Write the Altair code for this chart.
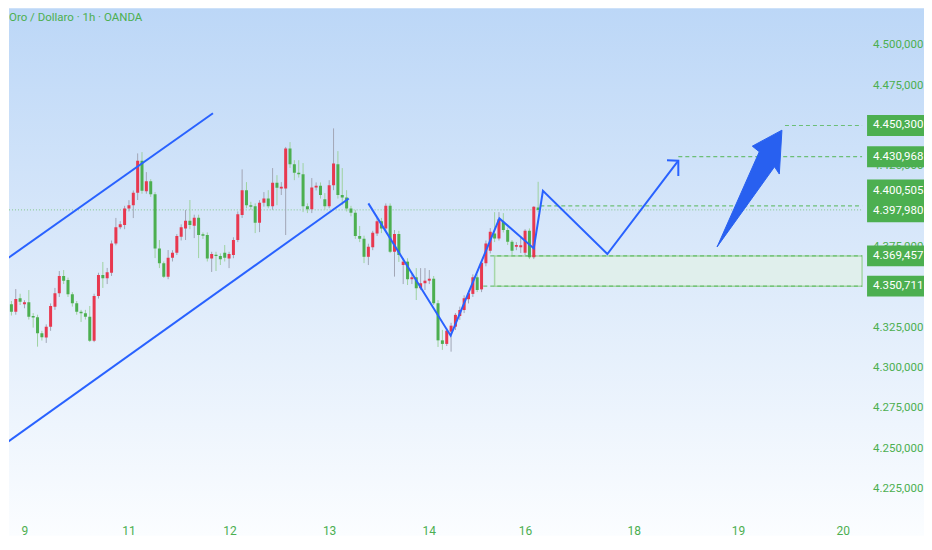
import altair as alt
import pandas as pd

# ---------------- candle data (1h, bar index 1..124) ----------------
opens = [4340.1, 4327.9, 4339.5, 4334.9, 4343.2, 4339.5, 4340.7, 4332.2, 4331.4, 4321.5,
         4318.8, 4325.6, 4338.0, 4346.3, 4357.0, 4354.5, 4345.7, 4340.1, 4334.9, 4333.9,
         4331.8, 4316.8, 4344.6, 4357.6, 4355.6, 4359.0, 4377.2, 4387.2, 4388.6, 4398.9,
         4400.9, 4408.6, 4428.4, 4409.6, 4415.8, 4407.6, 4374.1, 4364.9, 4356.6, 4368.3,
         4371.4, 4381.3, 4386.5, 4391.2, 4388.1, 4393.1, 4382.8, 4382.4, 4367.9, 4370.2,
         4369.4, 4371.4, 4367.9, 4370.0, 4379.3, 4394.8, 4410.2, 4400.9, 4400.3, 4390.0,
         4402.4, 4405.1, 4400.3, 4414.8, 4411.3, 4411.3, 4436.1, 4426.2, 4421.0, 4420.0,
         4400.3, 4398.3, 4411.9, 4412.9, 4404.5, 4400.3, 4413.3, 4426.2, 4407.2, 4405.7,
         4398.9, 4396.2, 4381.8, 4380.1, 4368.9, 4374.8, 4383.4, 4391.0, 4386.5, 4400.5,
         4372.0, 4383.0, 4363.8, 4365.9, 4355.0, 4356.2, 4349.4, 4352.5, 4354.1, 4355.3,
         4340.1, 4317.1, 4314.9, 4322.5, 4325.6, 4332.2, 4335.9, 4342.6, 4345.9, 4356.2,
         4348.7, 4364.9, 4372.7, 4383.4, 4380.3, 4390.6, 4385.5, 4378.2, 4375.1, 4374.8,
         4371.4, 4385.0, 4368.6, 4399.5]
highs = [4348.3, 4342.1, 4341.5, 4348.9, 4346.0, 4342.0, 4348.3, 4334.0, 4333.0, 4323.0,
         4327.0, 4340.0, 4349.6, 4360.1, 4360.7, 4356.0, 4347.0, 4341.5, 4336.0, 4336.0,
         4338.4, 4346.0, 4359.0, 4365.7, 4362.0, 4379.0, 4393.0, 4391.0, 4400.5, 4404.0,
         4410.0, 4433.0, 4433.8, 4421.4, 4417.0, 4409.0, 4379.3, 4366.0, 4373.1, 4373.0,
         4383.0, 4389.0, 4397.9, 4404.1, 4395.0, 4395.0, 4384.0, 4384.0, 4372.0, 4372.0,
         4371.0, 4376.2, 4372.0, 4381.0, 4397.0, 4423.1, 4415.2, 4403.0, 4402.0, 4404.0,
         4409.0, 4410.2, 4423.9, 4419.5, 4415.2, 4437.0, 4440.0, 4428.8, 4428.8, 4427.0,
         4402.0, 4417.7, 4415.0, 4415.0, 4408.4, 4416.4, 4448.5, 4434.4, 4423.9, 4410.2,
         4400.5, 4398.0, 4388.0, 4382.0, 4377.0, 4385.0, 4392.9, 4393.0, 4402.0, 4402.0,
         4385.5, 4385.0, 4368.0, 4368.0, 4358.0, 4361.9, 4361.9, 4361.9, 4360.7, 4357.0,
         4342.0, 4323.6, 4324.8, 4328.0, 4334.0, 4338.0, 4345.0, 4348.0, 4358.0, 4358.0,
         4367.0, 4379.0, 4386.7, 4396.6, 4396.6, 4396.0, 4387.0, 4379.3, 4378.0, 4381.8,
         4386.0, 4386.5, 4400.3, 4415.4]
lows = [4326.7, 4326.0, 4332.5, 4333.0, 4339.0, 4337.0, 4330.0, 4325.0, 4313.2, 4317.0,
        4315.5, 4323.0, 4336.0, 4344.0, 4352.0, 4344.0, 4338.0, 4333.0, 4328.5, 4330.0,
        4316.1, 4316.0, 4343.0, 4349.6, 4352.0, 4357.0, 4376.0, 4386.0, 4386.0, 4397.0,
        4392.9, 4404.1, 4408.0, 4408.0, 4406.0, 4368.1, 4361.9, 4355.8, 4355.0, 4366.0,
        4370.0, 4379.0, 4379.3, 4386.0, 4380.5, 4368.1, 4380.0, 4366.0, 4359.5, 4360.1,
        4363.8, 4366.0, 4361.9, 4368.0, 4378.0, 4393.0, 4399.0, 4398.0, 4383.6, 4384.2,
        4400.0, 4399.0, 4398.0, 4400.9, 4407.2, 4382.4, 4424.0, 4416.4, 4418.0, 4396.6,
        4396.0, 4396.0, 4410.0, 4405.0, 4398.0, 4399.0, 4410.2, 4405.0, 4400.9, 4397.0,
        4394.0, 4380.0, 4378.0, 4365.0, 4363.8, 4373.0, 4381.8, 4383.6, 4385.0, 4371.2,
        4356.6, 4365.7, 4352.0, 4351.4, 4352.0, 4342.1, 4348.3, 4348.3, 4352.0, 4339.0,
        4313.0, 4311.2, 4313.6, 4310.1, 4323.5, 4329.8, 4334.0, 4340.0, 4344.0, 4347.0,
        4347.0, 4363.0, 4371.0, 4378.0, 4379.0, 4384.0, 4376.2, 4370.0, 4373.0, 4371.2,
        4370.0, 4367.5, 4367.5, 4396.5]
closes = [4327.9, 4339.7, 4334.9, 4342.8, 4341.1, 4340.7, 4331.8, 4331.2, 4321.5, 4319.0,
          4325.6, 4338.4, 4346.3, 4357.0, 4354.1, 4345.7, 4340.1, 4334.9, 4333.9, 4331.8,
          4316.8, 4344.6, 4357.6, 4355.6, 4359.3, 4377.2, 4387.2, 4389.0, 4398.9, 4400.9,
          4408.6, 4428.4, 4409.8, 4415.8, 4407.6, 4374.1, 4364.9, 4356.6, 4368.3, 4371.4,
          4381.8, 4387.2, 4391.2, 4388.6, 4393.1, 4382.4, 4381.9, 4367.9, 4370.6, 4369.4,
          4367.3, 4368.3, 4370.6, 4379.3, 4395.2, 4410.2, 4400.9, 4399.9, 4390.0, 4402.4,
          4405.1, 4400.3, 4414.8, 4411.7, 4412.3, 4436.1, 4426.2, 4421.0, 4420.0, 4400.3,
          4398.3, 4411.9, 4412.9, 4407.2, 4400.3, 4413.3, 4426.8, 4407.2, 4405.7, 4398.9,
          4396.2, 4381.8, 4380.1, 4368.9, 4375.1, 4383.8, 4391.0, 4386.5, 4400.5, 4372.0,
          4383.0, 4370.0, 4365.9, 4355.0, 4356.2, 4349.4, 4352.5, 4354.1, 4355.3, 4340.1,
          4317.1, 4314.9, 4323.1, 4326.2, 4332.9, 4335.9, 4343.2, 4346.3, 4356.2, 4348.3,
          4365.2, 4377.2, 4384.4, 4380.3, 4392.1, 4385.5, 4378.2, 4372.7, 4376.2, 4376.0,
          4385.0, 4368.6, 4399.9, 4397.98]

# ---------------- axis ticks ----------------
day_ticks = [6.1, 30.0, 53.2, 76.1, 99.0, 121.1, 146.1, 170.0, 194.1]
day_labels = ["9", "11", "12", "13", "14", "16", "18", "19", "20"]
# price scale labels that are visible (the others sit under the price tags)
price_ticks = [4225, 4250, 4275, 4300, 4325, 4375, 4425, 4475, 4500]

# ---------------- price tags / levels ----------------
last_price = 4397.980
tag_prices = [4450.300, 4430.968, 4369.457, 4350.711]
pair_prices = [4400.505, 4397.980]
level_prices = [4450.300, 4430.968, 4400.505, 4369.457, 4350.711]
level_start = [180.7, 156.2, 124.5, 113.0, 111.4]
zone_start, zone_top, zone_bottom = 114.0, 4369.457, 4350.711

# ---------------- drawings (bar index, price) ----------------
upper_i, upper_p = [0.6, 49.3], [4365.0, 4457.9]
lower_i, lower_p = [0.6, 80.5], [4251.1, 4405.0]
zig_i = [85.0, 103.9, 115.1, 123.0, 125.1, 139.9, 156.2]
zig_p = [4402.0, 4320.0, 4392.7, 4374.1, 4409.8, 4370.6, 4428.5]
head_i, head_p = [153.6, 156.2, 156.2], [4428.8, 4428.5, 4419.0]
arrow_i = [165.1, 174.8, 173.2, 180.0, 179.4, 178.3, 165.1]
arrow_p = [4375.0, 4434.0, 4437.5, 4447.4, 4420.2, 4424.7, 4375.0]

title_text = "Oro / Dollaro · 1h · OANDA"

# ---------------- styling ----------------
W, H = 854, 507
GREEN = "#4caf50"
RED = "#e8384f"
BLUE = "#2962ff"
FONT = "Roboto"

XS = alt.Scale(domain=[2.4456, 198.41], nice=False, zero=False, padding=0)
YS = alt.Scale(domain=[4209.0, 4522.95], nice=False, zero=False, padding=0)


def X(f):
    return alt.X(f"{f}:Q", scale=XS, axis=None)


def Y(f):
    return alt.Y(f"{f}:Q", scale=YS, axis=None)


def fmt_price(p):
    s = f"{p:.3f}"
    whole, dec = s.split(".")
    return f"{whole[0]}.{whole[1:]},{dec}"


candles = pd.DataFrame({
    "i": list(range(1, len(opens) + 1)),
    "o": opens, "h": highs, "l": lows, "c": closes,
})
candles["dir"] = ["up" if c >= o else "down" for o, c in zip(opens, closes)]

one = pd.DataFrame({"a": [0]})

bg = alt.Chart(one).mark_rect(
    fill=alt.Gradient(
        gradient="linear",
        stops=[alt.GradientStop(color="#bcd7f7", offset=0),
               alt.GradientStop(color="#d9e8fa", offset=0.45),
               alt.GradientStop(color="#fbfdff", offset=1)],
        x1=0, x2=0, y1=0, y2=1),
    strokeWidth=0,
).encode(x=alt.value(0), x2=alt.value(916), y=alt.value(0), y2=alt.value(528))

last_line = alt.Chart(pd.DataFrame({"p": [last_price]})).mark_rule(
    color="#7cc47f", strokeDash=[1, 2], strokeWidth=1, opacity=0.9
).encode(x=alt.value(0), x2=alt.value(W), y=Y("p"))

zone = alt.Chart(pd.DataFrame({"x0": [zone_start], "top": [zone_top], "bot": [zone_bottom]})).mark_rect(
    fill="#e0efec", stroke="#a6d7a9", strokeWidth=1.5
).encode(x=X("x0"), x2=alt.value(W), y=Y("top"), y2=alt.Y2("bot:Q"))

levels = alt.Chart(pd.DataFrame({"x0": level_start, "p": level_prices})).mark_rule(
    color="#5cb860", strokeDash=[4, 3], strokeWidth=1.2, opacity=0.85
).encode(x=X("x0"), x2=alt.value(W), y=Y("p"))

seg_rows = []
for name, xs, ps in [("up", upper_i, upper_p), ("low", lower_i, lower_p),
                     ("zig", zig_i, zig_p), ("head", head_i, head_p)]:
    for k, (a, b) in enumerate(zip(xs, ps)):
        seg_rows.append({"seg": name, "i": a, "p": b, "k": k})
segs = alt.Chart(pd.DataFrame(seg_rows)).mark_line(
    color=BLUE, strokeWidth=2, clip=True
).encode(x=X("i"), y=Y("p"), detail="seg:N", order="k:Q")

wick_color = alt.when(alt.datum.dir == "up").then(alt.value("#a2a6b6")).otherwise(alt.value("#9ed2a0"))
body_color = alt.when(alt.datum.dir == "up").then(alt.value(RED)).otherwise(alt.value(GREEN))

wicks = alt.Chart(candles).mark_rule(strokeWidth=1, clip=True).encode(
    x=X("i"), y=Y("l"), y2=alt.Y2("h:Q"), color=wick_color)
bodies = alt.Chart(candles).mark_bar(size=3, clip=True).encode(
    x=X("i"), y=Y("o"), y2=alt.Y2("c:Q"), color=body_color)

big_arrow = alt.Chart(pd.DataFrame({"i": arrow_i, "p": arrow_p, "k": list(range(len(arrow_i)))})).mark_line(
    fill="#2860f0", stroke="#2860f0", strokeWidth=1
).encode(x=X("i"), y=Y("p"), order="k:Q")

ptick_df = pd.DataFrame({"p": price_ticks, "lab": [f"4.{v - 4000:03d},000" for v in price_ticks]})
plabels = alt.Chart(ptick_df).mark_text(
    align="left", baseline="middle", fontSize=11.5, font=FONT, color=GREEN
).encode(x=alt.value(865), y=Y("p"), text="lab:N")

TAG_X = 887.5
tag_shape = "M-1,-0.368L1,-0.368L1,0.368L-1,0.368Z"
pair_shape = "M-1,-0.754L1,-0.754L1,0.754L-1,0.754Z"
tag_df = pd.DataFrame({"p": tag_prices, "lab": [fmt_price(v) for v in tag_prices]})
tags = alt.Chart(tag_df).mark_point(
    shape=tag_shape, size=3249, filled=True, opacity=1, color=GREEN, strokeWidth=0
).encode(x=alt.value(TAG_X), y=Y("p"))
tag_text = alt.Chart(tag_df).mark_text(
    align="left", baseline="middle", fontSize=11.5, font=FONT, color="white"
).encode(x=alt.value(865), y=Y("p"), text="lab:N")

pair_df = pd.DataFrame({"p": [sum(pair_prices) / 2]})
pair_box = alt.Chart(pair_df).mark_point(
    shape=pair_shape, size=3249, filled=True, opacity=1, color=GREEN, strokeWidth=0, yOffset=-7
).encode(x=alt.value(TAG_X), y=Y("p"))
pair_a = alt.Chart(pd.DataFrame({"p": [pair_prices[0]], "lab": [fmt_price(pair_prices[0])]})).mark_text(
    align="left", baseline="middle", fontSize=11.5, font=FONT, color="white", dy=-15
).encode(x=alt.value(865), y=Y("p"), text="lab:N")
pair_b = alt.Chart(pd.DataFrame({"p": [pair_prices[1]], "lab": [fmt_price(pair_prices[1])]})).mark_text(
    align="left", baseline="middle", fontSize=11.5, font=FONT, color="white", dy=1
).encode(x=alt.value(865), y=Y("p"), text="lab:N")

dlabels = alt.Chart(pd.DataFrame({"t": day_ticks, "lab": day_labels})).mark_text(
    align="center", baseline="middle", fontSize=12, font=FONT, color=GREEN
).encode(x=X("t"), y=alt.value(523), text="lab:N")

title = alt.Chart(one).mark_text(
    align="left", baseline="middle", fontSize=11.5, font=FONT, color=GREEN, text=title_text
).encode(x=alt.value(0), y=alt.value(10))

chart = alt.layer(
    bg, last_line, zone, levels, wicks, bodies, segs, big_arrow,
    plabels, tags, tag_text, pair_box, pair_a, pair_b, dlabels, title
).properties(width=W, height=H, padding=0, background="white").configure_view(stroke=None)

chart.save("out.html", embed_options={"renderer": "svg", "actions": False})
